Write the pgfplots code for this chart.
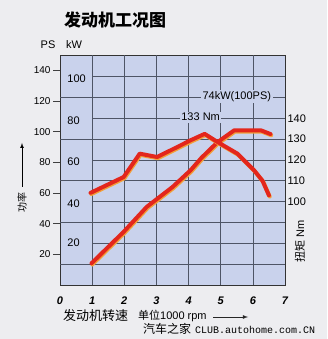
\documentclass[border=0pt]{standalone}
\usepackage{pgfplots}
\pgfplotsset{compat=1.18}
\usepackage{fontspec}
\setmainfont{Liberation Sans}
\newfontfamily\cjk{Noto Sans CJK SC}
\newfontfamily\monof{Liberation Mono}
\definecolor{pagebg}{HTML}{EDEDF0}
\definecolor{plotbg}{HTML}{C9D2EC}
\definecolor{gridc}{HTML}{4E5566}
\definecolor{curvered}{HTML}{E3261C}
\definecolor{shadowc}{HTML}{F2A03A}
\begin{document}
\begin{tikzpicture}[x=1pt,y=1pt]
\fill[pagebg] (0,0) rectangle (327,339);
\useasboundingbox (0,0) rectangle (327,339);

% main axis: kW scale (left ticks labelled in PS)
\begin{axis}[at={(60pt,54pt)}, anchor=south west, scale only axis,
  width=225pt, height=230pt,
  xmin=0, xmax=7, ymin=0, ymax=110.33,
  axis background/.style={fill=plotbg},
  axis line style={draw=black!80, line width=0.9pt},
  xtick={0,...,7}, xtick pos=bottom, xtick style={draw=none},
  xticklabel style={font=\fontsize{11}{11}\selectfont\bfseries\itshape, yshift=-1pt},
  ytick={14.71,29.42,44.13,58.84,73.55,88.26,102.97},
  yticklabels={20,40,60,80,100,120,140},
  ytick pos=left, tick align=outside, major tick length=7pt,
  ytick style={line width=1pt, draw=black!75},
  yticklabel style={font=\fontsize{10}{10}\selectfont, xshift=1pt},
  /pgf/number format/assume math mode=true,
  clip=false]
\pgfplotsinvokeforeach{1,...,6}{\draw[gridc, line width=0.6pt] (axis cs:#1,0) -- (axis cs:#1,110.33);}
\pgfplotsinvokeforeach{10,30,50,70,90}{\draw[gridc, line width=0.6pt] (axis cs:0,#1) -- (axis cs:7,#1);}
\pgfplotsinvokeforeach{20,40,60,80,100}{\draw[gridc, line width=0.6pt] (axis cs:1,#1) -- (axis cs:7,#1);}
\node[anchor=west, font=\fontsize{11}{11}\selectfont] at (axis cs:0.12,99) {100};
\node[anchor=west, font=\fontsize{11}{11}\selectfont] at (axis cs:0.12,79) {80};
\node[anchor=west, font=\fontsize{11}{11}\selectfont] at (axis cs:0.12,59.3) {60};
\node[anchor=west, font=\fontsize{11}{11}\selectfont] at (axis cs:0.12,39.2) {40};
\node[anchor=west, font=\fontsize{11}{11}\selectfont] at (axis cs:0.12,20.1) {20};
\node[fill=plotbg, inner sep=1.5pt, font=\fontsize{11}{11}\selectfont] at (axis cs:5.5,90.3) {74kW(100PS)};
\node[fill=plotbg, inner sep=1.5pt, font=\fontsize{11}{11}\selectfont] at (axis cs:4.375,80.5) {133 Nm};
% power curve (kW)
\addplot[shadowc, line width=4pt, line join=round, line cap=round, xshift=0.8pt, yshift=-1.2pt]
 coordinates {(0.98,10.4) (1.98,25.5) (2.7,37.5) (3.5,47) (4.06,55) (4.4,61) (4.9,68.5) (5.42,74.2) (6.25,74.2) (6.55,72.4)};
\addplot[curvered, line width=4pt, line join=round, line cap=round]
 coordinates {(0.98,10.4) (1.98,25.5) (2.7,37.5) (3.5,47) (4.06,55) (4.4,61) (4.9,68.5) (5.42,74.2) (6.25,74.2) (6.55,72.4)};
\end{axis}

% torque axis (Nm, right)
\begin{axis}[at={(60pt,54pt)}, anchor=south west, scale only axis,
  width=225pt, height=230pt,
  xmin=0, xmax=7, ymin=60, ymax=170.33,
  hide x axis, axis y line*=right, y axis line style={draw=none},
  ytick={100,110,120,130,140}, ytick style={draw=none},
  yticklabel style={font=\fontsize{11}{11}\selectfont, xshift=-1pt},
  /pgf/number format/assume math mode=true,
  clip=false]
\addplot[shadowc, line width=4pt, line join=round, line cap=round, xshift=0.8pt, yshift=-1.2pt]
 coordinates {(0.95,104.2) (1.98,111.8) (2.48,123) (3.02,121.4) (3.65,126.2) (4.06,129.4) (4.5,132.5) (4.9,128.6) (5.52,123) (6.04,115) (6.3,110) (6.5,103)};
\addplot[curvered, line width=4pt, line join=round, line cap=round]
 coordinates {(0.95,104.2) (1.98,111.8) (2.48,123) (3.02,121.4) (3.65,126.2) (4.06,129.4) (4.5,132.5) (4.9,128.6) (5.52,123) (6.04,115) (6.3,110) (6.5,103)};
\end{axis}

% titles and labels
\node[font=\cjk\bfseries\fontsize{17}{17}\selectfont] at (115,319) {发动机工况图};
\node[font=\fontsize{11}{11}\selectfont] at (48,294) {PS};
\node[font=\fontsize{11}{11}\selectfont] at (74,294) {kW};
\node[rotate=90, font=\cjk\fontsize{10}{10}\selectfont] at (22,136) {功率};
\draw[-latex, line width=0.7pt] (22,152) -- (22,196);
\node[rotate=90, font=\fontsize{11}{11}\selectfont] at (300,98) {{\cjk 扭矩} Nm};
\node[anchor=west, font=\cjk\fontsize{13}{13}\selectfont, inner sep=0pt] at (63,23) {发动机转速};
\node[anchor=west, font=\fontsize{11}{11}\selectfont, inner sep=0pt] at (138,23) {{\cjk 单位}1000 rpm};
\draw[-latex, line width=0.8pt, black!85] (213,22) -- (248,22);
\node[anchor=west, inner sep=0pt] at (143,10) {{\cjk\fontsize{12}{12}\selectfont 汽车之家}\hspace{4pt}{\monof\fontsize{10}{10}\selectfont CLUB.autohome.com.CN}};
\end{tikzpicture}
\end{document}
